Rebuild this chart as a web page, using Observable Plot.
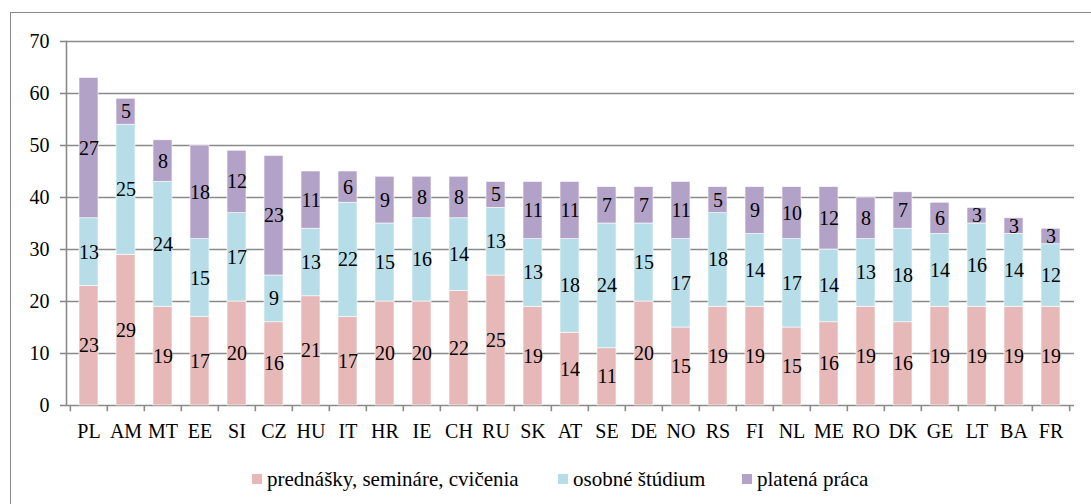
<!DOCTYPE html>
<html>
<head>
<meta charset="utf-8">
<script src="https://cdn.jsdelivr.net/npm/d3@7"></script>
<script src="https://cdn.jsdelivr.net/npm/@observablehq/plot@0.6"></script>
<style>
  html, body { margin: 0; padding: 0; background: #fff; width: 1091px; height: 504px; overflow: hidden; }
  #frame { position: absolute; left: 10px; top: 12px; width: 1100px; height: 500px; border: 1.5px solid #888; box-sizing: border-box; }
  #chart { position: absolute; left: 0; top: 0; }
  #legend { position: absolute; top: 467px; left: 0; width: 1091px; font-family: "Liberation Serif", "Times New Roman", serif; font-size: 21px; line-height: 24px; color: #000; }
  .item { position: absolute; display: flex; align-items: center; white-space: nowrap; }
  .sw { width: 10px; height: 10px; margin-right: 5px; }
</style>
</head>
<body>
<div id="frame"></div>
<div id="chart"></div>
<div id="legend"></div>
<script>
const countryList = ["PL","AM","MT","EE","SI","CZ","HU","IT","HR","IE","CH","RU","SK","AT","SE","DE","NO","RS","FI","NL","ME","RO","DK","GE","LT","BA","FR"];
const seriesNames = ["prednášky, semináre, cvičenia", "osobné štúdium", "platená práca"];
const lectures = [23,29,19,17,20,16,21,17,20,20,22,25,19,14,11,20,15,19,19,15,16,19,16,19,19,19,19];
const study    = [13,25,24,15,17, 9,13,22,15,16,14,13,13,18,24,15,17,18,14,17,14,13,18,14,16,14,12];
const work     = [27, 5, 8,18,12,23,11, 6, 9, 8, 8, 5,11,11, 7, 7,11, 5, 9,10,12, 8, 7, 6, 3, 3, 3];
const yTicks = [0,10,20,30,40,50,60,70];
const colors = ["#E6B9B8", "#B7DEE8", "#B3A2C7"];

const seriesValues = [lectures, study, work];
const data = [];
seriesValues.forEach((vals, s) => {
  countryList.forEach((c, i) => data.push({country: c, series: seriesNames[s], value: vals[i]}));
});

const W = 1091, H = 450, ML = 66, MR = 17, MT = 41, MB = 45;
const step = (W - ML - MR) / countryList.length;
const serif = "Liberation Serif";

const chart = Plot.plot({
  width: W, height: H,
  marginLeft: ML, marginRight: MR, marginTop: MT, marginBottom: MB,
  style: {fontFamily: serif, fontSize: "20px", color: "#000", background: "transparent", overflow: "visible"},
  x: {domain: countryList, paddingInner: 0.48, paddingOuter: 0.24, label: null},
  y: {domain: [0, 70], label: null},
  color: {domain: seriesNames, range: colors},
  marks: [
    Plot.ruleY(yTicks, {stroke: "#8a8a8a", strokeWidth: 1.6}),
    Plot.barY(data, {x: "country", y: "value", fill: "series", stroke: "#fff", strokeWidth: 0.6}),
    Plot.text(data, Plot.stackY({x: "country", y: "value", z: "series", text: "value", fontSize: 20, fill: "#000"})),
    Plot.ruleX(countryList, {x: d => d, dx: -step / 2, y1: 0, y2: -1.2, stroke: "#8a8a8a", strokeWidth: 1.6}),
    Plot.ruleX(countryList.slice(-1), {x: d => d, dx: step / 2, y1: 0, y2: -1.2, stroke: "#8a8a8a", strokeWidth: 1.6}),
    Plot.axisY({ticks: yTicks, tickSize: 6, tickPadding: 11, stroke: "#8a8a8a", strokeWidth: 1.6, fontSize: 20, label: null}),
    Plot.frame({anchor: "left", stroke: "#8a8a8a", strokeWidth: 1.6}),
    Plot.axisX({tickSize: 0, tickPadding: 18, fontSize: 20, label: null})
  ]
});
document.getElementById("chart").appendChild(chart);

const legendPos = [252, 558, 742];
const legend = document.getElementById("legend");
seriesNames.forEach((name, i) => {
  const item = document.createElement("div");
  item.className = "item";
  item.style.left = legendPos[i] + "px";
  const sw = document.createElement("div");
  sw.className = "sw";
  sw.style.background = colors[i];
  const t = document.createElement("span");
  t.textContent = name;
  item.appendChild(sw);
  item.appendChild(t);
  legend.appendChild(item);
});
</script>
</body>
</html>
